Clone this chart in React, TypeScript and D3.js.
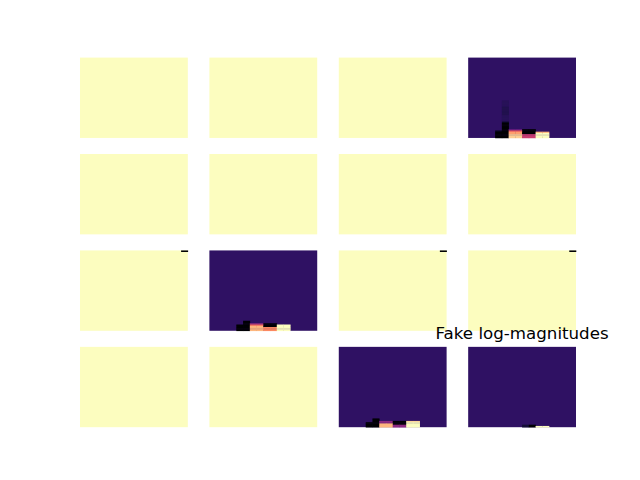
import { useEffect, useRef } from "react";
import * as d3 from "d3";

// 4x4 grid of images, each 64 rows x 16 columns
const gridRows = 4;
const gridCols = 4;
const nRows = 64;
const nCols = 16;

// base (normalized) value of each panel, row by row
const panelBase = [
  1, 1, 1, 0.175,
  1, 1, 1, 1,
  1, 0.175, 1, 1,
  1, 1, 0.175, 0.175,
];

// [panel, colStart, colEnd, rowFromBottomStart, rowFromBottomEnd, value]
const cellSpans: [number, number, number, number, number, number][] = [
  [3, 4, 4, 0, 4, 0.0],
  [3, 4, 4, 5, 5, 0.06],
  [3, 5, 5, 13, 29, 0.155],
  [3, 5, 5, 18, 24, 0.14],
  [3, 5, 5, 12, 12, 0.06],
  [3, 5, 5, 0, 11, 0.0],
  [3, 6, 7, 0, 2, 0.9],
  [3, 6, 7, 3, 4, 0.8],
  [3, 6, 7, 5, 5, 0.65],
  [3, 6, 7, 6, 6, 0.32],
  [3, 8, 9, 0, 2, 0.55],
  [3, 8, 9, 3, 6, 0.0],
  [3, 10, 11, 0, 3, 1.0],
  [3, 10, 11, 4, 4, 0.85],

  [8, 15, 15, 63, 63, 0.0],

  [9, 4, 4, 0, 4, 0.0],
  [9, 5, 5, 0, 7, 0.0],
  [9, 6, 7, 0, 3, 0.85],
  [9, 6, 7, 4, 4, 0.68],
  [9, 6, 7, 5, 5, 0.42],
  [9, 8, 9, 0, 2, 0.75],
  [9, 8, 9, 3, 5, 0.0],
  [9, 10, 11, 0, 4, 1.0],

  [10, 15, 15, 63, 63, 0.0],
  [11, 15, 15, 63, 63, 0.0],

  [14, 4, 4, 0, 3, 0.0],
  [14, 5, 5, 0, 6, 0.0],
  [14, 6, 7, 0, 2, 0.85],
  [14, 6, 7, 3, 4, 0.4],
  [14, 8, 9, 0, 1, 0.4],
  [14, 8, 9, 2, 4, 0.0],
  [14, 10, 11, 0, 3, 1.0],
  [14, 10, 11, 4, 4, 0.92],

  [15, 8, 8, 0, 1, 0.1],
  [15, 9, 9, 0, 1, 0.0],
  [15, 10, 11, 0, 0, 1.0],
];

const titleText = "Fake log-magnitudes";

export default function App() {
  const svgRef = useRef<SVGSVGElement>(null);

  useEffect(() => {
    if (!svgRef.current) return;
    const width = 640;
    const height = 480;
    const margin = { top: 57.6, right: 64, bottom: 52.8, left: 80 };

    const svg = d3.select(svgRef.current);
    svg.selectAll("*").remove();

    // panel layout (wspace = hspace = 0.2)
    const px = d3
      .scaleBand<number>()
      .domain(d3.range(gridCols))
      .range([margin.left, width - margin.right])
      .paddingInner(1 / 6);
    const py = d3
      .scaleBand<number>()
      .domain(d3.range(gridRows))
      .range([margin.top, height - margin.bottom])
      .paddingInner(1 / 6);

    const color = d3.scaleSequential(d3.interpolateMagma).domain([0, 1]);

    panelBase.forEach((base, p) => {
      const r = Math.floor(p / gridCols);
      const c = p % gridCols;
      const x0 = px(c)!;
      const y0 = py(r)!;

      const x = d3
        .scaleBand<number>()
        .domain(d3.range(nCols))
        .range([x0, x0 + px.bandwidth()]);
      const y = d3
        .scaleBand<number>()
        .domain(d3.range(nRows))
        .range([y0, y0 + py.bandwidth()]);

      // expand the spans into a grid
      const grid: number[][] = d3.range(nRows).map(() => d3.range(nCols).map(() => base));
      cellSpans
        .filter((s) => s[0] === p)
        .forEach(([, c0, c1, k0, k1, v]) => {
          for (let k = k0; k <= k1; k++)
            for (let cc = c0; cc <= c1; cc++) grid[nRows - 1 - k][cc] = v;
        });

      const cells: { row: number; col: number; v: number }[] = [];
      grid.forEach((rowVals, row) =>
        rowVals.forEach((v, col) => {
          if (v !== base) cells.push({ row, col, v });
        })
      );

      const g = svg.append("g");
      g.append("rect")
        .attr("x", x0)
        .attr("y", y0)
        .attr("width", px.bandwidth())
        .attr("height", py.bandwidth())
        .attr("fill", color(base));

      g.selectAll("rect.cell")
        .data(cells)
        .join("rect")
        .attr("class", "cell")
        .attr("x", (d) => x(d.col)!)
        .attr("y", (d) => y(d.row)!)
        .attr("width", x.bandwidth() + 0.3)
        .attr("height", y.bandwidth() + 0.3)
        .attr("fill", (d) => color(d.v));

      if (p === panelBase.length - 1) {
        svg
          .append("text")
          .attr("x", x0 + px.bandwidth() / 2)
          .attr("y", y0 - 8.33)
          .attr("text-anchor", "middle")
          .attr("font-family", "DejaVu Sans")
          .attr("font-size", 16.67)
          .attr("fill", "#000")
          .text(titleText);
      }
    });
  }, []);

  return (
    <svg
      ref={svgRef}
      width={640}
      height={480}
      style={{ position: "absolute", left: 0, top: 0, background: "#fff" }}
    ></svg>
  );
}
